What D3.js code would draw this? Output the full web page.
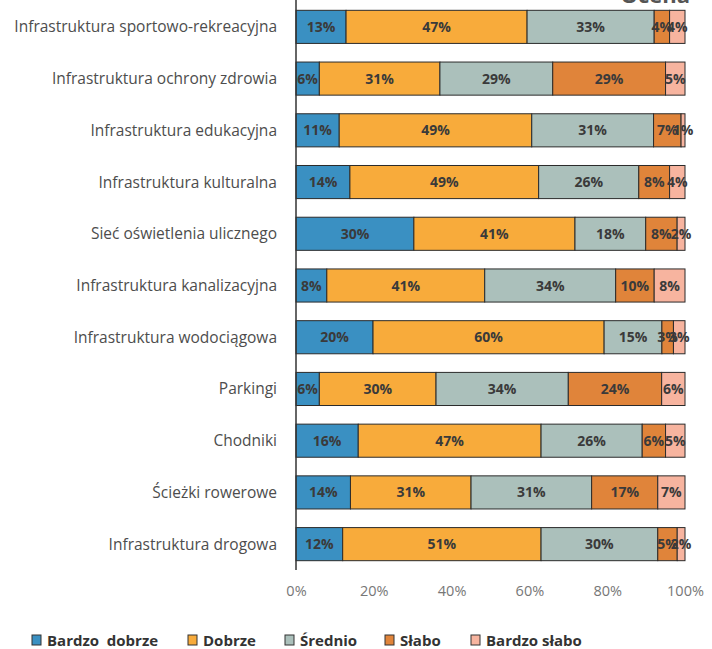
<!DOCTYPE html>
<html><head><meta charset="utf-8">
<script src="https://cdn.jsdelivr.net/npm/d3@7"></script>
<style>body{margin:0;background:#fff;}svg{display:block;}</style>
</head><body>
<svg id="c" width="712" height="649"></svg>
<script>
const categories = ["Infrastruktura sportowo-rekreacyjna","Infrastruktura ochrony zdrowia","Infrastruktura edukacyjna","Infrastruktura kulturalna","Sieć oświetlenia ulicznego","Infrastruktura kanalizacyjna","Infrastruktura wodociągowa","Parkingi","Chodniki","Ścieżki rowerowe","Infrastruktura drogowa"];
const seriesNames = ["Bardzo\u00a0 dobrze","Dobrze","Średnio","Słabo","Bardzo słabo"];
const bardzoDobrze = [13,6,11,14,30,8,20,6,16,14,12];
const dobrze = [47,31,49,49,41,41,60,30,47,31,51];
const srednio = [33,29,31,26,18,34,15,34,26,31,30];
const slabo = [4,29,7,8,8,10,3,24,6,17,5];
const bardzoSlabo = [4,5,1,4,2,8,3,6,5,7,2];
const tickLabels = ["0%","20%","40%","60%","80%","100%"];
const colors = ["#3a90c2","#f8ab3b","#abc0bb","#e0843a","#f7b49f"];

const series = [bardzoDobrze,dobrze,srednio,slabo,bardzoSlabo];
const rows = categories.map((c,i)=>{
  const vals = series.map(s=>s[i]);
  const tot = d3.sum(vals);
  let acc = 0;
  return {cat:c, segs: vals.map((v,k)=>{const s={k,v,x0:acc/tot,x1:(acc+v)/tot};acc+=v;return s;})};
});

const svg = d3.select("#c");
const x = d3.scaleLinear().domain([0,1]).range([296,685]);
const y = d3.scaleBand().domain(categories).range([1,570]).paddingInner(0.36).paddingOuter(0.18);
const FF = "Open Sans, sans-serif";

// title fragment (cut off at top)
svg.append("text").attr("x",690).attr("y",3).attr("text-anchor","end")
  .attr("font-family",FF).attr("font-weight","bold").attr("font-size",22)
  .attr("fill","#555").text("Ocena");

const g = svg.append("g");
rows.forEach(r=>{
  const gy = y(r.cat);
  r.segs.forEach(s=>{
    g.append("rect").attr("x",x(s.x0)).attr("y",gy).attr("width",x(s.x1)-x(s.x0)).attr("height",y.bandwidth())
      .attr("fill",colors[s.k]).attr("stroke","#2b2b2b").attr("stroke-width",1);
  });
  r.segs.forEach(s=>{
    g.append("text").attr("x",(x(s.x0)+x(s.x1))/2).attr("y",gy+y.bandwidth()/2+5)
      .attr("text-anchor","middle").attr("font-family",FF).attr("font-weight","bold")
      .attr("font-size",14).attr("fill","#3a3a3a").text(s.v+"%");
  });
  svg.append("text").attr("x",277).attr("y",gy+y.bandwidth()/2+5.5).attr("text-anchor","end")
    .attr("font-family",FF).attr("font-size",15.5).attr("fill","#4d4d4d").text(r.cat);
});

// vertical axis line
svg.append("line").attr("x1",296).attr("x2",296).attr("y1",0).attr("y2",570).attr("stroke","#333").attr("stroke-width",1.5);

// x axis ticks
const xa = d3.axisBottom(x).tickValues(d3.range(0,1.01,0.2)).tickFormat((d,i)=>tickLabels[i]).tickSize(0);
const ax = svg.append("g").attr("transform","translate(0,583)").call(xa);
ax.select(".domain").remove();
ax.selectAll("text").attr("font-family",FF).attr("font-size",14.5).attr("fill","#777").attr("dy","0.71em");

// legend
const lx = [32,188,285,385,471];
seriesNames.forEach((n,i)=>{
  svg.append("rect").attr("x",lx[i]).attr("y",635).attr("width",9).attr("height",10)
    .attr("fill",colors[i]).attr("stroke","#333").attr("stroke-width",1);
  svg.append("text").attr("x",lx[i]+15).attr("y",646).attr("font-family",FF)
    .attr("font-weight","bold").attr("font-size",15).attr("fill","#333").text(n);
});
</script>
</body></html>
